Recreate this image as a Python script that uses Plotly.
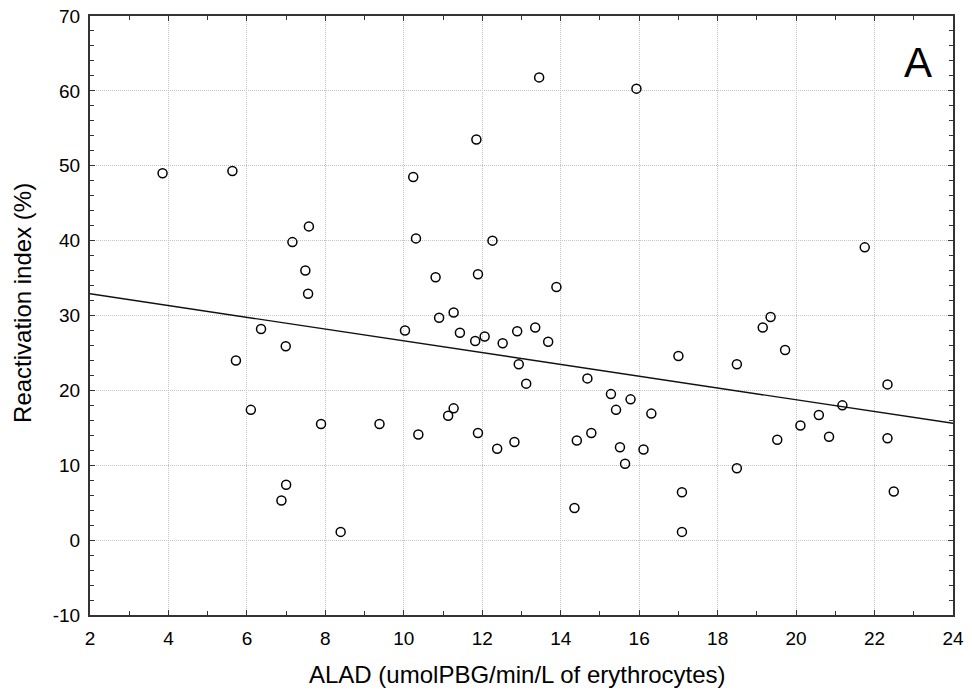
import plotly.graph_objects as go

# ALAD activity vs. reactivation index, one subject per point
alad = [3.85, 5.63, 5.72, 6.10, 6.36, 6.99, 7.00, 6.88, 7.16, 7.49,
        7.58, 7.56, 7.89, 8.39, 9.38, 10.03, 10.24, 10.31, 10.37, 10.81,
        10.90, 11.13, 11.27, 11.27, 11.43, 11.85, 11.89, 11.82, 11.89, 12.06,
        12.26, 12.38, 12.52, 12.82, 12.89, 12.93, 13.12, 13.35, 13.45, 13.68,
        13.89, 14.35, 14.41, 14.68, 14.78, 15.28, 15.41, 15.51, 15.64, 15.78,
        15.93, 16.11, 16.31, 17.00, 17.09, 17.09, 18.49, 18.49, 19.15, 19.35,
        19.52, 19.72, 20.11, 20.58, 20.84, 21.18, 21.75, 22.33, 22.33, 22.49]
reactivation = [49.0, 49.3, 24.0, 17.4, 28.2, 25.9, 7.4, 5.3, 39.8, 36.0,
                41.9, 32.9, 15.5, 1.1, 15.5, 28.0, 48.5, 40.3, 14.1, 35.1,
                29.7, 16.6, 30.4, 17.6, 27.7, 53.5, 35.5, 26.6, 14.3, 27.2,
                40.0, 12.2, 26.3, 13.1, 27.9, 23.5, 20.9, 28.4, 61.8, 26.5,
                33.8, 4.3, 13.3, 21.6, 14.3, 19.5, 17.4, 12.4, 10.2, 18.8,
                60.3, 12.1, 16.9, 24.6, 6.4, 1.1, 23.5, 9.6, 28.4, 29.8,
                13.4, 25.4, 15.3, 16.7, 13.8, 18.0, 39.1, 20.8, 13.6, 6.5]

# Linear regression line across the x range
fit_x = [2, 24]
fit_y = [32.9, 15.6]

x_ticks = [2, 4, 6, 8, 10, 12, 14, 16, 18, 20, 22, 24]
y_ticks = [-10, 0, 10, 20, 30, 40, 50, 60, 70]

FONT = "Liberation Sans, Arial, sans-serif"
INK = "#000000"
AXIS = "#333333"
GRID = "#c4c4c4"

fig = go.Figure()
fig.add_trace(go.Scatter(
    x=fit_x, y=fit_y, mode="lines",
    line=dict(color="#111111", width=1.4),
    hoverinfo="skip", showlegend=False,
))
fig.add_trace(go.Scatter(
    x=alad, y=reactivation, mode="markers",
    marker=dict(symbol="circle-open", size=9, color="#000000",
                line=dict(color="#000000", width=1.5)),
    showlegend=False,
))

axis_common = dict(
    showline=True, linecolor=AXIS, linewidth=2, mirror="ticks",
    ticks="inside", ticklen=5, tickwidth=1.2, tickcolor=AXIS,
    showgrid=True, gridcolor=GRID, gridwidth=1, griddash="1px,1px",
    zeroline=False, automargin=False,
    tickfont=dict(family=FONT, size=19, color=INK),
)

fig.update_xaxes(
    range=[2, 24], tickmode="array", tickvals=x_ticks,
    ticktext=[str(v) for v in x_ticks],
    minor=dict(ticks="inside", ticklen=4, dtick=1, tick0=2,
               tickcolor=AXIS, showgrid=False),
    ticklabelstandoff=5,
    **axis_common,
)
fig.update_yaxes(
    range=[-10, 70], tickmode="array", tickvals=y_ticks,
    ticktext=[str(v) for v in y_ticks],
    minor=dict(ticks="inside", ticklen=4, dtick=2, tick0=0,
               tickcolor=AXIS, showgrid=False),
    ticklabelstandoff=4,
    **axis_common,
)

fig.update_layout(
    width=972, height=698,
    margin=dict(l=90, r=19, t=16, b=83, autoexpand=False),
    paper_bgcolor="white", plot_bgcolor="white",
    font=dict(family=FONT, color=INK),
    annotations=[
        dict(text="ALAD (umolPBG/min/L of erythrocytes)",
             xref="paper", yref="paper", x=0.4948, y=-0.0993,
             xanchor="center", yanchor="middle", showarrow=False,
             font=dict(family=FONT, size=24, color=INK)),
        dict(text="Reactivation index (%)",
             xref="paper", yref="paper", x=-0.0776, y=0.521,
             xanchor="center", yanchor="middle", textangle=-90,
             showarrow=False,
             font=dict(family=FONT, size=24, color=INK)),
        dict(text="A",
             xref="paper", yref="paper", x=0.9589, y=0.923,
             xanchor="center", yanchor="middle", showarrow=False,
             font=dict(family=FONT, size=42, color="#000000")),
    ],
)

fig.write_html("out.html")
